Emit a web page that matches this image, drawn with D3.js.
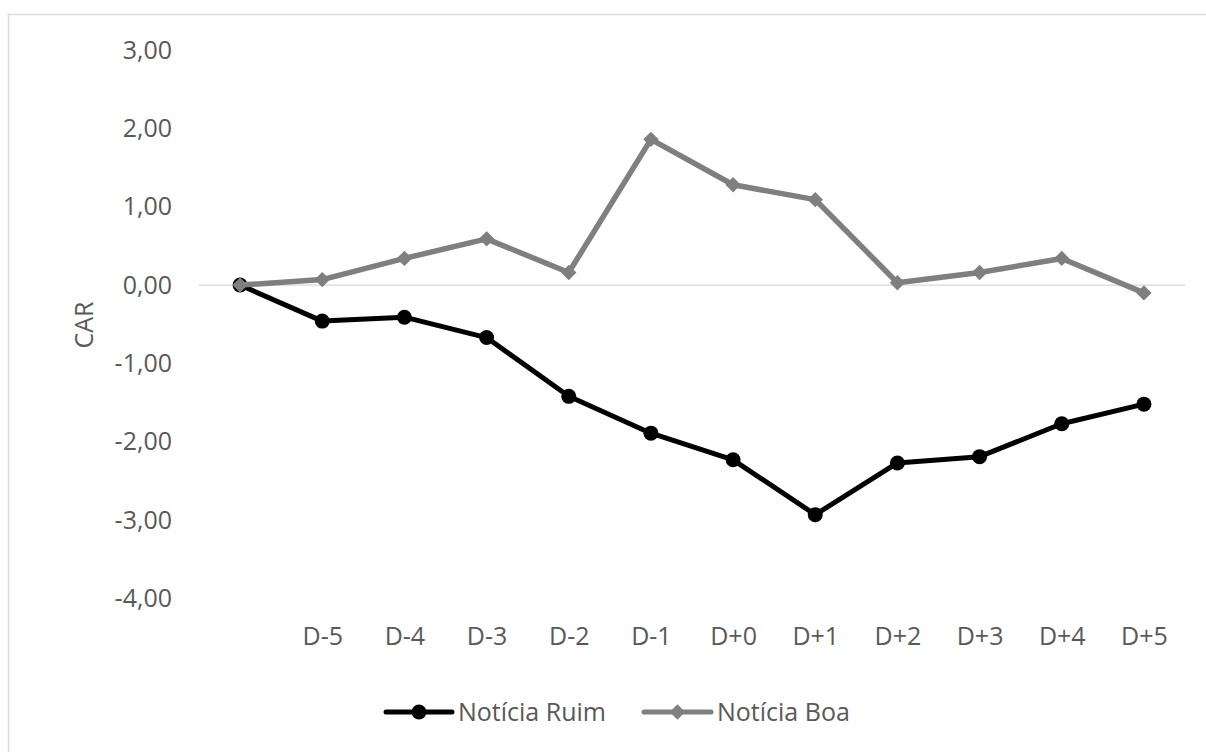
<!DOCTYPE html>
<html>
<head>
<meta charset="utf-8">
<script src="https://cdn.jsdelivr.net/npm/d3@7"></script>
<style>
  body { margin: 0; background: #fff; }
  svg { display: block; font-family: "Open Sans", sans-serif; }
</style>
</head>
<body>
<div id="chart"></div>
<script>
// categories (the first one has no label in the original)
const categories = ["", "D-5", "D-4", "D-3", "D-2", "D-1", "D+0", "D+1", "D+2", "D+3", "D+4", "D+5"];
const noticiaRuim = [0, -0.46, -0.41, -0.67, -1.42, -1.89, -2.23, -2.93, -2.27, -2.19, -1.77, -1.52];
const noticiaBoa = [0, 0.07, 0.34, 0.59, 0.16, 1.86, 1.28, 1.09, 0.03, 0.16, 0.34, -0.10];
const yTicks = [3, 2, 1, 0, -1, -2, -3, -4];
const seriesNames = ["Notícia Ruim", "Notícia Boa"];

const width = 1206, height = 752;
const textColor = "#595959";

const svg = d3.select("#chart").append("svg")
    .attr("width", width)
    .attr("height", height);

// chart border (only left/top visible in the picture)
svg.append("rect")
    .attr("x", 8.5).attr("y", 14.5)
    .attr("width", 1400).attr("height", 900)
    .style("fill", "none")
    .style("stroke", "#dcdcdc")
    .style("stroke-width", 1.5);

const x = d3.scalePoint()
    .domain(categories)
    .range([199, 1185])
    .padding(0.5);

const y = d3.scaleLinear()
    .domain([-4, 3])
    .range([598.5, 50]);

const fmt = d => d3.format(".2f")(d).replace(".", ",").replace("−", "-");

// y axis labels
const yAxis = svg.append("g")
    .attr("transform", "translate(172,0)")
    .call(d3.axisLeft(y).tickValues(yTicks).tickSize(0).tickPadding(0).tickFormat(fmt));
yAxis.select(".domain").remove();
yAxis.selectAll("text")
    .style("font-family", "'Open Sans', sans-serif")
    .style("font-size", "25px")
    .style("fill", textColor);

// x axis labels (placed low, below the plot)
const xAxis = svg.append("g")
    .attr("transform", `translate(0,${y(-4)})`)
    .call(d3.axisBottom(x).tickSize(0).tickPadding(0));
xAxis.select(".domain").remove();
xAxis.selectAll("text")
    .attr("y", 38)
    .attr("dy", "0.35em")
    .style("font-family", "'Open Sans', sans-serif")
    .style("font-size", "25px")
    .style("fill", textColor);

// horizontal axis line at zero
svg.append("line")
    .attr("x1", 199).attr("x2", 1185)
    .attr("y1", y(0)).attr("y2", y(0))
    .style("stroke", "#d9d9d9")
    .style("stroke-width", 1.2);

// axis title
svg.append("text")
    .attr("transform", `translate(84,${325}) rotate(-90)`)
    .attr("text-anchor", "middle")
    .attr("dy", "0.35em")
    .style("font-size", "25px")
    .style("fill", textColor)
    .text("CAR");

const line = d3.line()
    .x((d, i) => x(categories[i]))
    .y(d => y(d));

const diamond = d3.symbol().type(d3.symbolDiamond2).size(150);

// Notícia Ruim (black, circles)
svg.append("path")
    .datum(noticiaRuim)
    .attr("d", line)
    .style("fill", "none")
    .style("stroke", "#000")
    .style("stroke-width", 5)
    .style("stroke-linejoin", "round");
svg.append("g").selectAll("circle")
    .data(noticiaRuim)
    .join("circle")
    .attr("cx", (d, i) => x(categories[i]))
    .attr("cy", d => y(d))
    .attr("r", 7.5)
    .style("fill", "#000");

// Notícia Boa (gray, diamonds)
svg.append("path")
    .datum(noticiaBoa)
    .attr("d", line)
    .style("fill", "none")
    .style("stroke", "#7f7f7f")
    .style("stroke-width", 5.5)
    .style("stroke-linejoin", "round");
svg.append("g").selectAll("path")
    .data(noticiaBoa)
    .join("path")
    .attr("d", diamond)
    .attr("transform", (d, i) => `translate(${x(categories[i])},${y(d)})`)
    .style("fill", "#7f7f7f");

// legend
const legend = svg.append("g").attr("class", "legend");
const legendItems = [
    {name: seriesNames[0], color: "#000", x0: 386, x1: 452, tx: 458, marker: "circle"},
    {name: seriesNames[1], color: "#7f7f7f", x0: 644, x1: 711, tx: 717, marker: "diamond"}
];
const ly = 712;
for (let it of legendItems) {
    legend.append("line")
        .attr("x1", it.x0).attr("x2", it.x1)
        .attr("y1", ly).attr("y2", ly)
        .style("stroke", it.color)
        .style("stroke-width", 5)
        .style("stroke-linecap", "round");
    const mx = (it.x0 + it.x1) / 2;
    if (it.marker === "circle") {
        legend.append("circle").attr("cx", mx).attr("cy", ly).attr("r", 7.5).style("fill", it.color);
    } else {
        legend.append("path").attr("d", diamond)
            .attr("transform", `translate(${mx},${ly})`).style("fill", it.color);
    }
    legend.append("text")
        .attr("x", it.tx).attr("y", ly)
        .attr("dy", "0.35em")
        .style("font-size", "25px")
        .style("fill", textColor)
        .text(it.name);
}
</script>
</body>
</html>
